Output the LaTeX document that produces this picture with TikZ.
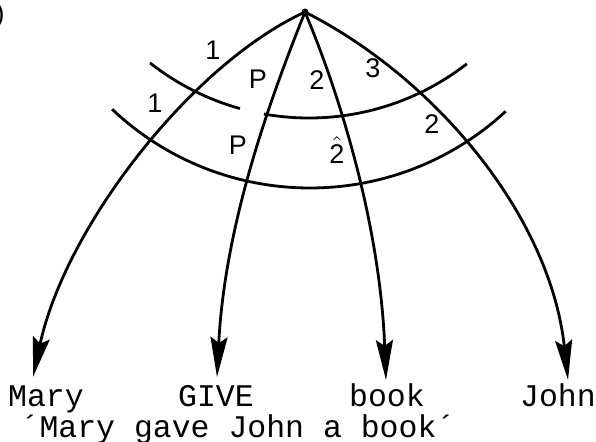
\documentclass[tikz,border=0pt]{standalone}
\usepackage{fontspec}
\setmonofont{Liberation Mono}
\newfontfamily\regionfont{Liberation Sans}
\usepackage{tikz}
\usetikzlibrary{arrows.meta}

\begin{document}
\begin{tikzpicture}[
  x=0.5pt, y=-0.5pt,
  word/.style={font=\ttfamily\fontsize{15.75}{18}\selectfont, inner sep=0pt, anchor=base},
  region/.style={font=\regionfont\fontsize{13.5}{15}\selectfont, inner sep=0pt},
  rel/.style={line width=1.4pt},
  arrow/.style={rel, -{Stealth[length=20pt, width=8.5pt, inset=3pt]}},
  apexdot/.style={circle, fill, inner sep=0pt, minimum size=3.5pt}
]
\useasboundingbox (0,0) rectangle (596,441);
\node[region, anchor=base east] (tag) at (5,22) {)};
\node[apexdot] (apex) at (305,12) {};

\node[word] (mary) at (46,406) {Mary};
\node[word] (give) at (216,406) {GIVE};
\node[word] (book) at (387,406) {book};
\node[word] (john) at (558,406) {John};
\node[word] (gloss) at (238,437) {´Mary gave John a book´};

\coordinate (maryTip) at (33,377);
\coordinate (giveTip) at (217,377);
\coordinate (bookTip) at (386,380);
\coordinate (johnTip) at (568,380);

\draw[arrow] (apex.center) .. controls (190,65) and (65,228) .. (maryTip);
\draw[arrow] (apex.center) .. controls (273,92) and (225,220) .. (giveTip);
\draw[arrow] (apex.center) .. controls (340,95) and (380,225) .. (bookTip);
\draw[arrow] (apex.center) .. controls (435,78) and (550,215) .. (johnTip);

\draw[rel] (309,-139) ++(128.2:257) arc[start angle=128.2, end angle=105.6, radius=257];
\draw[rel] (309,-139) ++(100.1:257) arc[start angle=100.1, end angle=52.1, radius=257];
\draw[rel] (310,-100) ++(133.4:288) arc[start angle=133.4, end angle=47.2, radius=288];

\node[region] (r1) at (213,50) {1};
\node[region] (r2) at (155,103) {1};
\node[region] (r3) at (258,79) {P};
\node[region] (r4) at (238,145) {P};
\node[region] (r5) at (317,80) {2};
\node[region] (r6) at (337,150) {$\hat{\mbox{\regionfont 2}}$};
\node[region] (r7) at (373,68) {3};
\node[region] (r8) at (432,124) {2};
\end{tikzpicture}
\end{document}
